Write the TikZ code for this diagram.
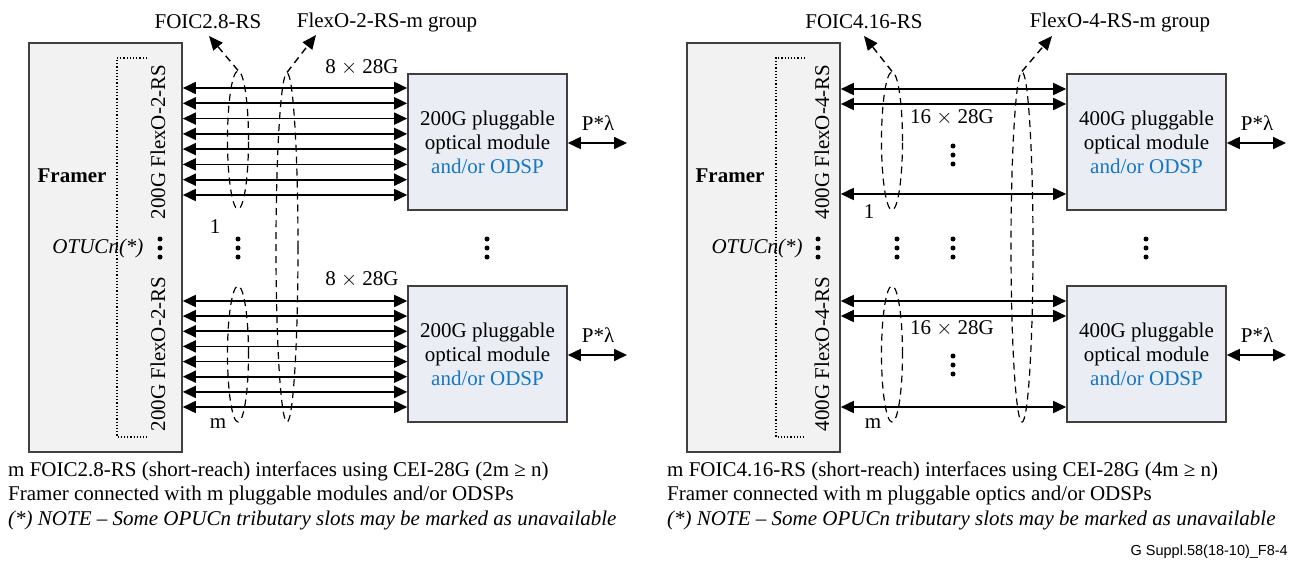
\documentclass[tikz,border=0pt]{standalone}
\usepackage{fontspec}
\setmainfont{Liberation Serif}
\newfontfamily\arialfont{Liberation Sans}
\usetikzlibrary{arrows.meta,shapes.geometric,calc}
\definecolor{framerfill}{RGB}{242,242,242}
\definecolor{modfill}{RGB}{234,238,244}
\definecolor{boxline}{RGB}{64,64,64}
\definecolor{odspblue}{RGB}{22,118,198}
\newcommand\threedotsat[2]{\fill (#1,#2-9) circle (2.5pt) (#1,#2) circle (2.5pt) (#1,#2+9) circle (2.5pt);}
\tikzset{
  txt/.style={font=\fontsize{21}{24}\selectfont, inner sep=0pt},
  framerbox/.style={draw=boxline, line width=1.6pt, fill=framerfill, minimum width=153pt, minimum height=409pt, inner sep=0pt},
  modbox/.style={draw=boxline, line width=1.6pt, fill=modfill, minimum width=159pt, minimum height=136pt, align=center, font=\fontsize{21}{24}\selectfont},
  dbl/.style={line width=1.7pt, {Triangle[length=13pt,width=12pt]}-{Triangle[length=13pt,width=12pt]}},
  grp/.style={ellipse, draw, line width=1.2pt, dash pattern=on 7pt off 5pt, inner sep=0pt, minimum width=21pt},
  dasharrow/.style={line width=1.4pt, dash pattern=on 7pt off 5pt, -{Triangle[length=14pt,width=12pt]}},
  bracket/.style={line width=1.2pt, dotted},
  rottxt/.style={txt, rotate=90},
}
\begin{document}
\begin{tikzpicture}[x=1pt,y=-1pt]
\useasboundingbox (0,0) rectangle (1298,567);

% ================= LEFT =================
\node[framerbox] (fL) at (105.5,247.5) {};
\node[txt, font=\fontsize{21}{24}\selectfont\bfseries] (fLlbl) at (72,176) {Framer};
\node[txt, font=\fontsize{21}{24}\selectfont\itshape] (otuL) at (98,248) {OTUCn(*)};
\draw[bracket] (147,58) -- (117,58) -- (117,437) -- (147,437);
\node[rottxt] (flxL1) at (158,142) {200G FlexO-2-RS};
\node[rottxt] (flxL2) at (158,354) {200G FlexO-2-RS};
\threedotsat{160}{248}

\node[modbox] (mL1) at (487.5,142) {200G pluggable\\optical module\\\textcolor{odspblue}{and/or ODSP}};
\node[modbox] (mL2) at (487.5,354) {200G pluggable\\optical module\\\textcolor{odspblue}{and/or ODSP}};

\foreach \y in {88,103.3,118.6,133.9,149.1,164.4,179.7,195}
  \draw[dbl] (fL.east |- 0,\y) -- (mL1.west |- 0,\y);
\foreach \y in {301,316.1,331.3,346.4,361.6,376.7,391.9,407}
  \draw[dbl] (fL.east |- 0,\y) -- (mL2.west |- 0,\y);

\node[txt] (rateL1) at (362,67) {8 $\times$ 28G};
\node[txt] (rateL2) at (362,279) {8 $\times$ 28G};

\node[grp, minimum height=138pt] (eL1) at (238,140) {};
\node[grp, minimum height=136pt] (eL2) at (238,354) {};
\node[grp, minimum height=349pt, minimum width=22pt] (eLg) at (287,247.5) {};

\node[txt] (foicL) at (208,22) {FOIC2.8-RS};
\node[txt] (grpL) at (387,22) {FlexO-2-RS-m group};
\coordinate (tipL1) at (209,36);
\coordinate (tipLg) at (316,35);
\draw[dasharrow] (eL1.north) -- (tipL1);
\draw[dasharrow] (eLg.north) -- (tipLg);

\node[txt] (oneL) at (215,227) {1};
\node[txt] (mLl) at (218,424) {m};
\threedotsat{238}{248}
\threedotsat{487}{248}

\coordinate (pL1) at (627,143);
\coordinate (pL2) at (627,355);
\draw[dbl] (mL1.east |- pL1) -- (pL1);
\draw[dbl] (mL2.east |- pL2) -- (pL2);
\node[txt] (lamL1) at (598,123) {P*λ};
\node[txt] (lamL2) at (598,335) {P*λ};

% ================= RIGHT =================
\node[framerbox] (fR) at (763.5,247.5) {};
\node[txt, font=\fontsize{21}{24}\selectfont\bfseries] (fRlbl) at (730,176) {Framer};
\node[txt, font=\fontsize{21}{24}\selectfont\itshape] (otuR) at (757,248) {OTUCn(*)};
\draw[bracket] (805,58) -- (776,58) -- (776,437) -- (805,437);
\node[rottxt] (flxR1) at (822,142) {400G FlexO-4-RS};
\node[rottxt] (flxR2) at (822,354) {400G FlexO-4-RS};
\threedotsat{818}{248}

\node[modbox] (mR1) at (1146.5,142) {400G pluggable\\optical module\\\textcolor{odspblue}{and/or ODSP}};
\node[modbox] (mR2) at (1146.5,354) {400G pluggable\\optical module\\\textcolor{odspblue}{and/or ODSP}};

\foreach \y in {89,104,194}
  \draw[dbl] (fR.east |- 0,\y) -- (mR1.west |- 0,\y);
\foreach \y in {301,316,407}
  \draw[dbl] (fR.east |- 0,\y) -- (mR2.west |- 0,\y);

\node[txt] (rateR1) at (952,117) {16 $\times$ 28G};
\node[txt] (rateR2) at (952,328) {16 $\times$ 28G};
\threedotsat{953}{155}
\threedotsat{953}{365}

\node[grp, minimum height=138pt] (eR1) at (892,141) {};
\node[grp, minimum height=136pt] (eR2) at (892,354) {};
\node[grp, minimum height=350pt, minimum width=22pt] (eRg) at (1022,247) {};

\node[txt] (foicR) at (864,22) {FOIC4.16-RS};
\node[txt] (grpR) at (1120,22) {FlexO-4-RS-m group};
\coordinate (tipR1) at (864,36);
\coordinate (tipRg) at (1052,36);
\draw[dasharrow] (eR1.north) -- (tipR1);
\draw[dasharrow] (eRg.north) -- (tipRg);

\node[txt] (oneR) at (869,212) {1};
\node[txt] (mRl) at (873,424) {m};
\threedotsat{897}{248}
\threedotsat{953}{248}
\threedotsat{1146}{248}

\coordinate (pR1) at (1286,143);
\coordinate (pR2) at (1286,355);
\draw[dbl] (mR1.east |- pR1) -- (pR1);
\draw[dbl] (mR2.east |- pR2) -- (pR2);
\node[txt] (lamR1) at (1257,123) {P*λ};
\node[txt] (lamR2) at (1257,335) {P*λ};

% ================= NOTES =================
\node[txt, anchor=west] (nL1) at (8,471) {m FOIC2.8-RS (short-reach) interfaces using CEI-28G (2m ≥ n)};
\node[txt, anchor=west] (nL2) at (8,495) {Framer connected with m pluggable modules and/or ODSPs};
\node[txt, anchor=west, font=\fontsize{21}{24}\selectfont\itshape] (nL3) at (8,520) {(*) NOTE – Some OPUCn tributary slots may be marked as unavailable};
\node[txt, anchor=west] (nR1) at (667,471) {m FOIC4.16-RS (short-reach) interfaces using CEI-28G (4m ≥ n)};
\node[txt, anchor=west] (nR2) at (667,495) {Framer connected with m pluggable optics and/or ODSPs};
\node[txt, anchor=west, font=\fontsize{21}{24}\selectfont\itshape] (nR3) at (667,520) {(*) NOTE – Some OPUCn tributary slots may be marked as unavailable};
\node[inner sep=0pt, anchor=east, font=\fontsize{14.5}{16}\arialfont] (ref) at (1288,552) {G Suppl.58(18-10)\_F8-4};
\end{tikzpicture}
\end{document}
